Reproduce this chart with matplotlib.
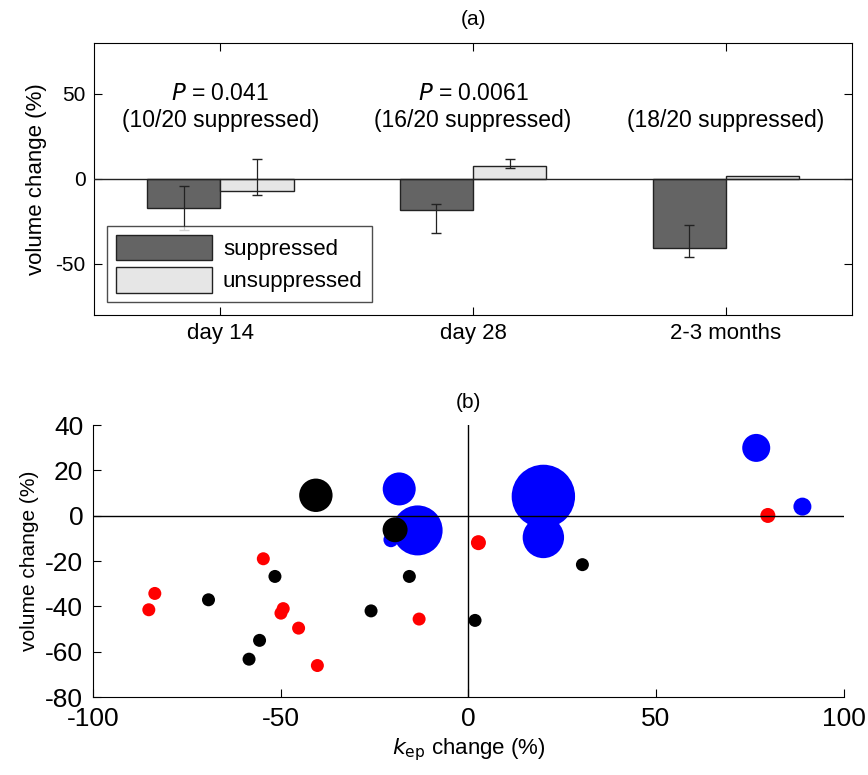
import numpy as np
import matplotlib
matplotlib.use('Agg')
import matplotlib.pyplot as plt

# ---- panel (a) data ----
groups = ['day 14', 'day 28', '2-3 months']
supp_mean = [-17.5, -18.5, -41.0]
supp_lo = [-30.0, -32.0, -46.0]      # lower end of error bar
supp_hi = [-4.3, -14.8, -27.0]       # upper end of error bar
unsupp_mean = [-7.0, 7.5, 1.5]
unsupp_lo = [-9.5, 6.5, 1.5]
unsupp_hi = [11.3, 11.3, 1.5]
p_texts = ['$\\it{P}$ = 0.041', '$\\it{P}$ = 0.0061', '']
n_texts = ['(10/20 suppressed)', '(16/20 suppressed)', '(18/20 suppressed)']

# ---- panel (b) data ----
red_x = [-54.6, -83.5, -85.1, -49.3, -49.9, -45.2, -13.1, -40.2, 2.7, 79.8]
red_y = [-19.0, -34.3, -41.5, -41.0, -43.0, -49.6, -45.6, -66.1, -11.9, 0.1]
red_r = [6.5, 6.5, 6.5, 6.5, 6.5, 6.5, 6.5, 6.5, 7.5, 7.5]

black_x = [-40.6, -51.5, -15.7, -69.2, -25.9, -55.6, -58.4, 30.4, 1.8, -19.5]
black_y = [9.0, -26.8, -26.8, -37.1, -42.0, -55.0, -63.3, -21.6, -46.2, -6.2]
black_r = [16.7, 6.5, 6.5, 6.5, 6.5, 6.5, 6.5, 6.5, 6.5, 12.5]

blue_x = [-18.4, -20.6, -13.5, 20.0, 20.0, 76.7, 89.0]
blue_y = [11.8, -10.6, -6.5, 8.5, -9.6, 29.9, 4.0]
blue_r = [16.5, 7.5, 25.0, 31.7, 20.7, 14.0, 9.0]

plt.rcParams['font.family'] = ['Liberation Sans', 'DejaVu Sans']
plt.rcParams['axes.unicode_minus'] = False

fig = plt.figure(figsize=(8.68, 7.75), dpi=100)

# ===== (a) =====
ax = fig.add_axes([0.108, 0.594, 0.874, 0.351])
x = np.arange(1, len(groups) + 1)
w = 0.29
sm = np.array(supp_mean)
um = np.array(unsupp_mean)
ax.bar(x - w / 2, sm, w, color='#646464', edgecolor='#222222', linewidth=1, label='suppressed', zorder=2)
ax.bar(x + w / 2, um, w, color='#e6e6e6', edgecolor='#222222', linewidth=1, label='unsuppressed', zorder=2)
ax.errorbar(x - w / 2, sm, yerr=[sm - np.array(supp_lo), np.array(supp_hi) - sm],
            fmt='none', ecolor='#222222', elinewidth=0.9, capsize=3.5, zorder=3)
ue_lo = um - np.array(unsupp_lo)
ue_hi = np.array(unsupp_hi) - um
ax.errorbar((x + w / 2)[:2], um[:2], yerr=[ue_lo[:2], ue_hi[:2]],
            fmt='none', ecolor='#222222', elinewidth=0.9, capsize=3.5, zorder=3)
ax.axhline(0, color='#222222', lw=1, zorder=4)
ax.set_xlim(0.5, 3.5)
ax.set_ylim(-80, 80)
ax.set_yticks([-50, 0, 50])
ax.set_xticks(x)
ax.set_xticklabels(groups, fontsize=16)
ax.tick_params(axis='y', labelsize=15)
ax.tick_params(direction='in', top=True, right=True, length=6, pad=6)
ax.set_ylabel('volume change (%)', fontsize=16, labelpad=6)
ax.set_title('(a)', fontsize=15, pad=13)
for xi, pt, nt in zip(x, p_texts, n_texts):
    if pt:
        ax.text(xi, 50, pt, ha='center', va='center', fontsize=16.5)
    ax.text(xi, 34, nt, ha='center', va='center', fontsize=16.5)
leg = ax.legend(loc='lower left', bbox_to_anchor=(0.018, 0.048), fancybox=False,
                edgecolor='#222222', handlelength=4.3, handleheight=1.4,
                borderaxespad=0, prop={'size': 16},
                handletextpad=0.5, labelspacing=0.3, borderpad=0.4)
leg.get_frame().set_linewidth(1)

# ===== (b) =====
bx = fig.add_axes([0.107, 0.1006, 0.865, 0.351])
to_s = lambda r: (2 * np.array(r) * 0.72) ** 2
bx.scatter(red_x, red_y, s=to_s(red_r), c='#ff0000', edgecolors='none', zorder=2)
bx.scatter(blue_x, blue_y, s=to_s(blue_r), c='#0000ff', edgecolors='none', zorder=2)
bx.scatter(black_x, black_y, s=to_s(black_r), c='#000000', edgecolors='none', zorder=3)
bx.axhline(0, color='black', lw=1, zorder=4)
bx.axvline(0, color='black', lw=1, zorder=4)
bx.set_xlim(-100, 100)
bx.set_ylim(-80, 40)
bx.set_xticks([-100, -50, 0, 50, 100])
bx.set_yticks([-80, -60, -40, -20, 0, 20, 40])
bx.spines['top'].set_visible(False)
bx.spines['right'].set_visible(False)
bx.tick_params(direction='in', length=6, labelsize=19, pad=7)
bx.set_xlabel('$\\it{k}_{\\rm ep}$ change (%)', fontsize=16, labelpad=4)
bx.set_ylabel('volume change (%)', fontsize=15, labelpad=4)
bx.set_title('(b)', fontsize=15, pad=12)

fig.savefig('out.png', dpi=100)
